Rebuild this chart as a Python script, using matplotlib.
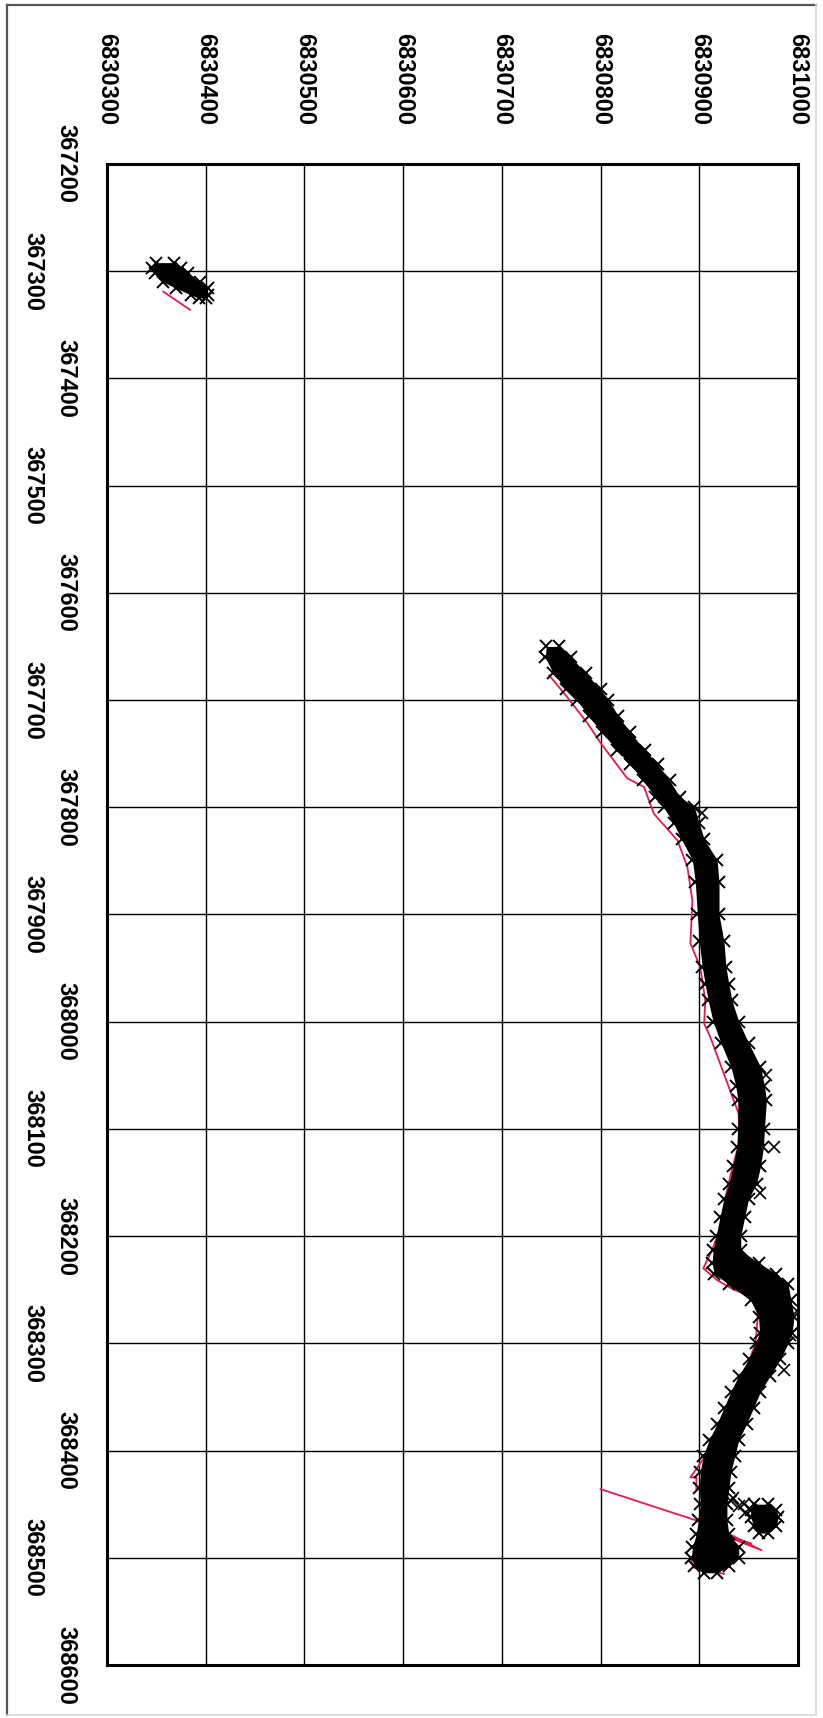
"""Survey track plot: GPS fixes (black crosses) against the reference line (red),
drawn on a rotated easting / northing grid."""

import matplotlib
matplotlib.use("Agg")
import matplotlib.pyplot as plt
from matplotlib.lines import Line2D

# ---- data -----------------------------------------------------------------
northing_ticks = [6830300, 6830400, 6830500, 6830600, 6830700, 6830800,
                  6830900, 6831000]
easting_ticks = [367200, 367300, 367400, 367500, 367600, 367700, 367800,
                 367900, 368000, 368100, 368200, 368300, 368400, 368500,
                 368600]

# main band of fixes: easting with left / right northing edge of the cloud
band_e = [367650, 367660, 367675, 367690, 367700, 367715, 367730, 367747,
          367760, 367775, 367790, 367800, 367815, 367830, 367849, 367870,
          367900, 367925, 367949, 367965, 367980, 368000, 368020, 368042,
          368060, 368073, 368100, 368117, 368135, 368151, 368165, 368182,
          368200, 368213, 368225, 368235, 368245, 368260, 368275, 368290,
          368300, 368315, 368330, 368345, 368360, 368375, 368390, 368405,
          368420, 368435, 368450, 368465, 368478, 368490, 368500, 368508,
          368514]
band_left = [6830745, 6830744, 6830752, 6830765, 6830776, 6830788, 6830801,
             6830817, 6830830, 6830843, 6830855, 6830864, 6830874, 6830882,
             6830893, 6830896, 6830898, 6830900, 6830903, 6830906, 6830909,
             6830914, 6830922, 6830932, 6830937, 6830939, 6830939, 6830938,
             6830934, 6830930, 6830925, 6830921, 6830917, 6830914, 6830913,
             6830915, 6830930, 6830952, 6830960, 6830961, 6830957, 6830950,
             6830940, 6830932, 6830925, 6830918, 6830910, 6830904, 6830901,
             6830900, 6830901, 6830899, 6830897, 6830893, 6830892, 6830895,
             6830905]
band_right = [6830758, 6830770, 6830785, 6830800, 6830808, 6830818, 6830830,
              6830845, 6830858, 6830870, 6830880, 6830895, 6830900, 6830905,
              6830918, 6830920, 6830920, 6830925, 6830927, 6830930, 6830933,
              6830940, 6830950, 6830962, 6830966, 6830968, 6830966, 6830965,
              6830962, 6830958, 6830950, 6830946, 6830942, 6830942, 6830960,
              6830978, 6830990, 6830993, 6830996, 6830994, 6830990, 6830982,
              6830972, 6830962, 6830955, 6830948, 6830940, 6830936, 6830932,
              6830930, 6830928, 6830928, 6830930, 6830940, 6830940, 6830930,
              6830918]

# small cloud near 367300
blob_e = [367292, 367297, 367302, 367310, 367316, 367322, 367325]
blob_left = [6830350, 6830346, 6830349, 6830357, 6830370, 6830385, 6830393]
blob_right = [6830368, 6830375, 6830382, 6830394, 6830402, 6830402, 6830400]

# side cloud east of the track end
side_e = [368450, 368455, 368462, 368470, 368477]
side_left = [6830955, 6830952, 6830952, 6830955, 6830960]
side_right = [6830970, 6830978, 6830980, 6830978, 6830970]

# isolated stray fixes
stray_e = [368117, 368292, 368270, 368160, 368447, 368452, 368458, 368450,
           368444, 368325, 367805, 368050]
stray_n = [6830976, 6830992, 6830999, 6830962, 6830932, 6830940, 6830946,
           6830945, 6830934, 6830986, 6830903, 6830968]

# reference line (three separate pieces)
ref_e = [367677, 367697, 367722, 367740, 367773, 367781, 367806, 367831,
         367856, 367887, 367927, 367949, 367980, 368002, 368014, 368086,
         368114, 368142, 368166, 368188, 368213, 368230, 368241, 368250,
         368258, 368278, 368300, 368330, 368360, 368400, 368425, 368425,
         368436]
ref_n = [6830748, 6830766, 6830787, 6830800, 6830827, 6830844, 6830854,
         6830878, 6830888, 6830893, 6830891, 6830901, 6830906, 6830905,
         6830911, 6830940, 6830940, 6830932, 6830926, 6830923, 6830913,
         6830904, 6830918, 6830935, 6830959, 6830959, 6830957, 6830945,
         6830928, 6830910, 6830891, 6830897, 6830897]
spike_e = [368436, 368467, 368473, 368493, 368478, 368487, 368476, 368497,
           368500, 368509, 368515]
spike_n = [6830800, 6830903, 6830920, 6830963, 6830922, 6830953, 6830917,
           6830896, 6830891, 6830894, 6830925]
ref2_e = [367319, 367336]
ref2_n = [6830357, 6830384]

RED = "#e8194f"

plt.rcParams["font.family"] = ["Liberation Sans", "DejaVu Sans"]

fig = plt.figure(figsize=(8.23, 17.18), dpi=100)
ax = fig.add_axes([107 / 823, 1 - 1665 / 1718, 691 / 823, 1501 / 1718])

# reference line under the fixes
for xs, ys in ((ref_n, ref_e), (spike_n, spike_e), (ref2_n, ref2_e)):
    ax.plot(xs, ys, color=RED, lw=1.3, zorder=2)

# clouds of fixes
for e, left, right in ((band_e, band_left, band_right),
                       (blob_e, blob_left, blob_right),
                       (side_e, side_left, side_right)):
    ax.fill_betweenx(e, left, right, color="black", lw=0, zorder=3)
    ax.plot(left, e, ls="none", marker="x", ms=8, mew=1.4, color="black",
            zorder=3)
    ax.plot(right, e, ls="none", marker="x", ms=9, mew=1.4, color="black",
            zorder=3)
ax.plot(stray_n, stray_e, ls="none", marker="x", ms=9, mew=1.2,
        color="black", zorder=3)

ax.set_xlim(northing_ticks[0], northing_ticks[-1])
ax.set_ylim(easting_ticks[-1], easting_ticks[0])
ax.set_xticks(northing_ticks)
ax.set_yticks(easting_ticks)
ax.set_xticklabels([str(v) for v in northing_ticks], rotation=270,
                   fontsize=17, fontweight="bold")
ax.set_yticklabels([str(v) for v in easting_ticks], rotation=270,
                   fontsize=17, fontweight="bold", va="center")
ax.xaxis.tick_top()
ax.tick_params(axis="x", length=0, pad=28)
ax.tick_params(axis="y", length=0, pad=21)
# staggered easting labels, as in the original
for i, tick in enumerate(ax.yaxis.get_major_ticks()):
    tick.set_pad(21 if i % 2 == 0 else 45)

ax.grid(True, color="black", lw=1.0)
ax.set_axisbelow(True)
for spine in ax.spines.values():
    spine.set_linewidth(2.2)

# window frame around the picture
fig.add_artist(Line2D([7 / 823, 7 / 823], [0.002, 1 - 5 / 1718],
                      color="#555555", lw=1.6))
fig.add_artist(Line2D([7 / 823, 816 / 823], [1 - 5 / 1718, 1 - 5 / 1718],
                      color="#555555", lw=1.6))
fig.add_artist(Line2D([816 / 823, 816 / 823], [0.002, 1 - 5 / 1718],
                      color="#d8d8d8", lw=1.2))
fig.add_artist(Line2D([7 / 823, 816 / 823], [0.002, 0.002],
                      color="#d8d8d8", lw=1.2))

fig.savefig("out.png", dpi=100)
